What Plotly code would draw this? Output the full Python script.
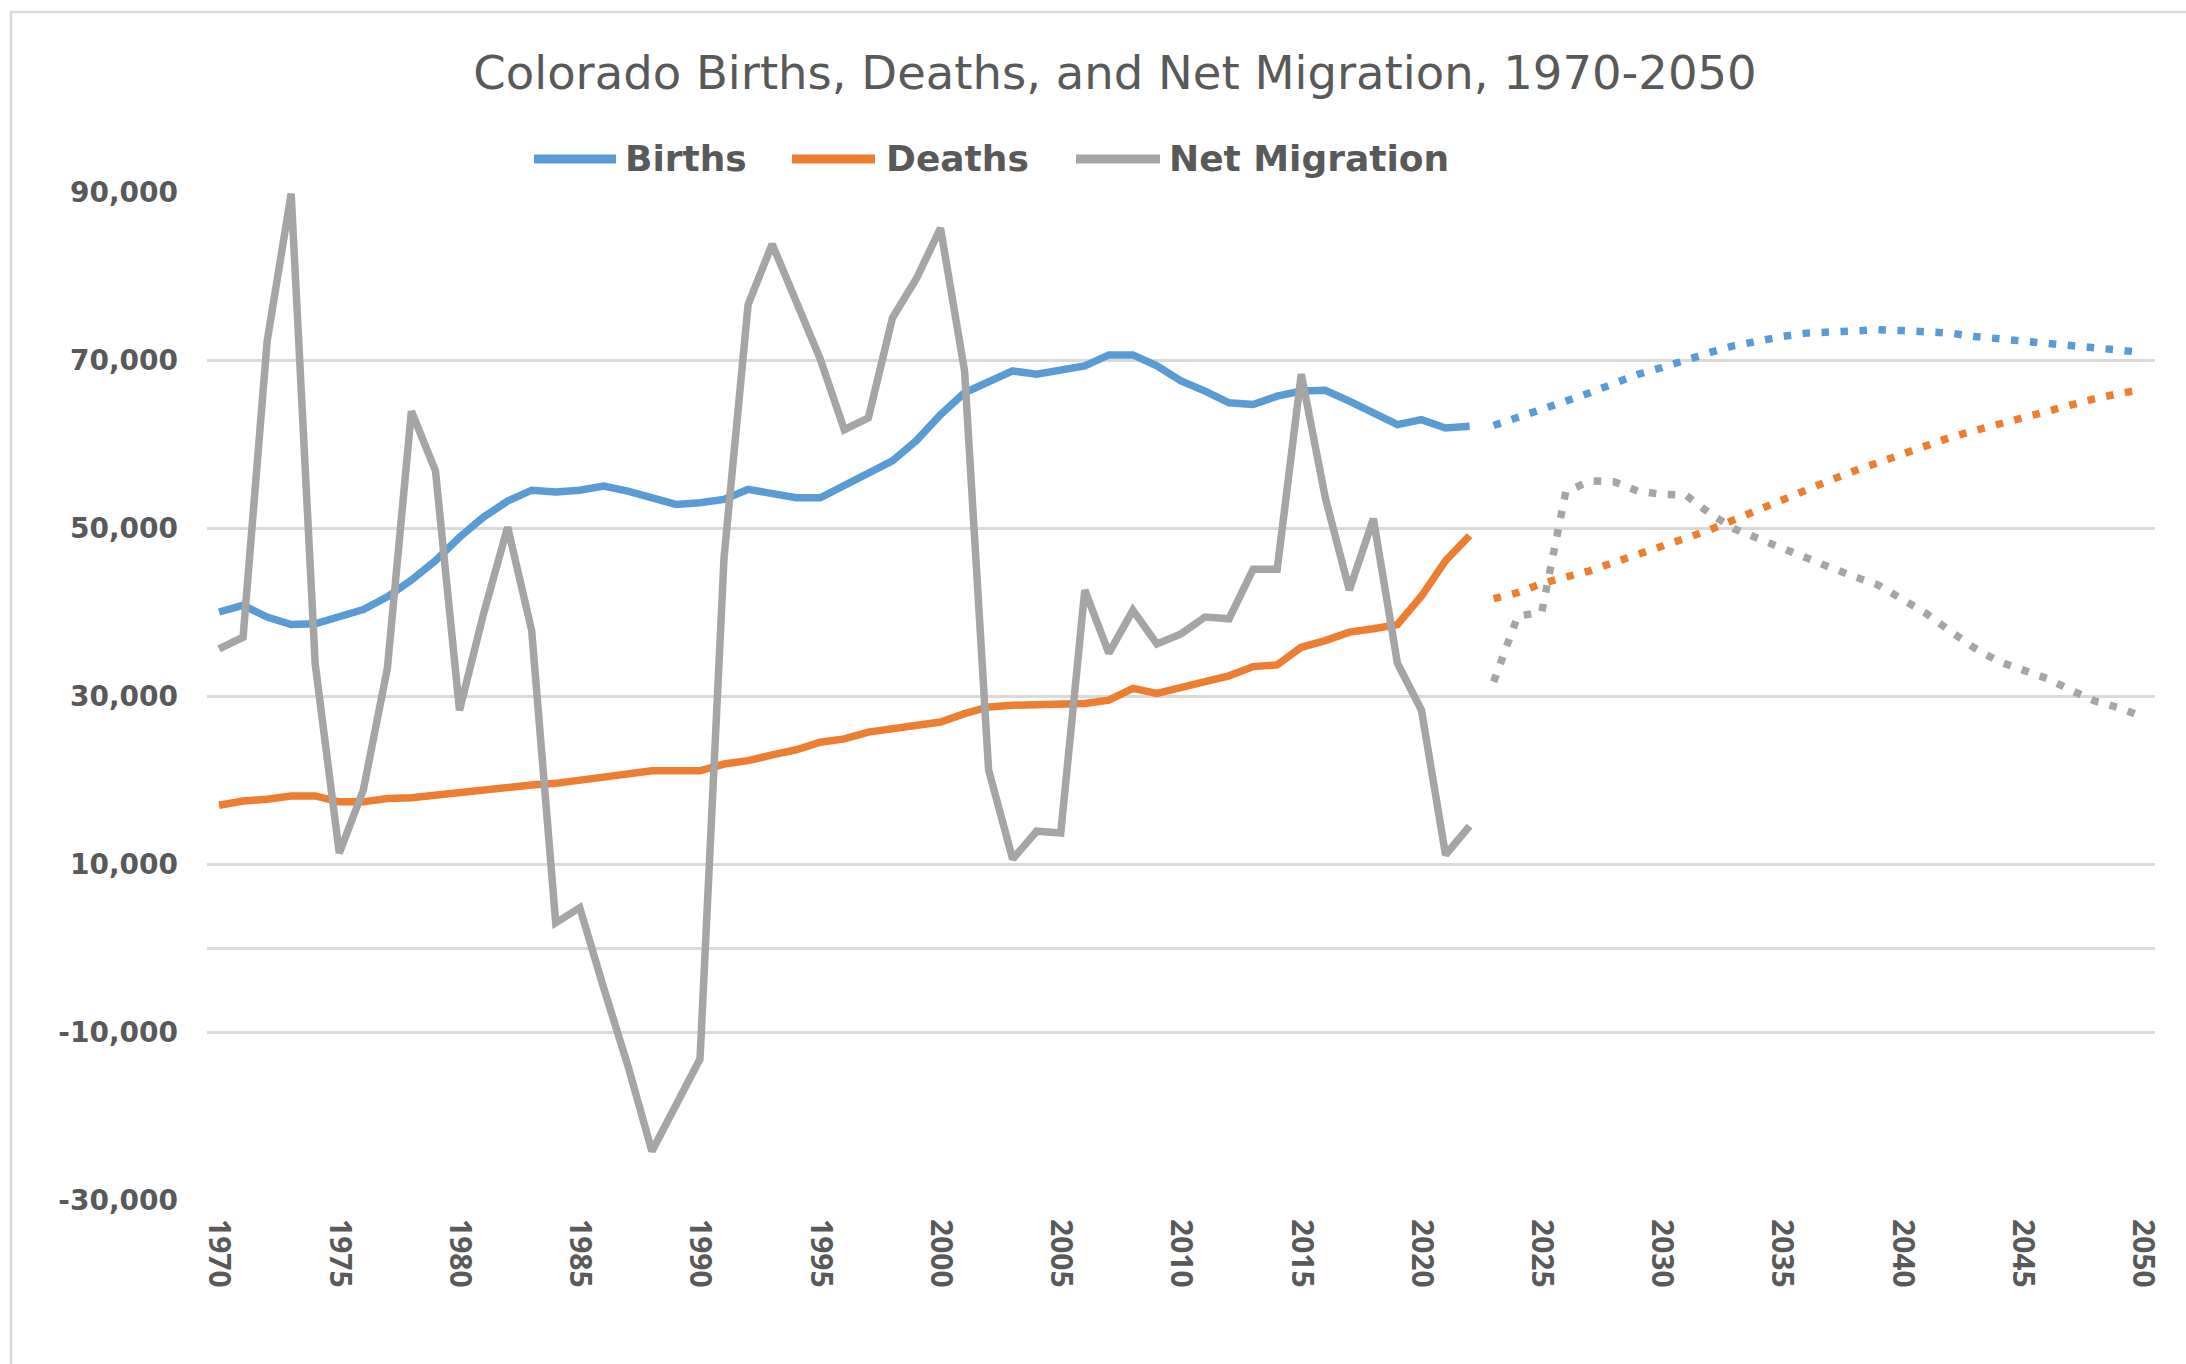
import plotly.graph_objects as go

# ---- Data -------------------------------------------------------------
years_hist = list(range(1970, 2023))
years_proj = list(range(2023, 2051))

births_hist = [
    40000, 40800, 39400, 38500, 38600, 39400, 40300, 41800, 43800, 46100,
    48900, 51300, 53200, 54500, 54300, 54500, 55000, 54400, 53600, 52800,
    53000, 53400, 54600, 54000, 53600, 53600, 55100, 56500, 58000, 60400,
    63500, 66100, 67500, 68700, 68300, 68900, 69300, 70600, 70600, 69300,
    67500, 66300, 64900, 64700, 65700, 66300, 66400, 65100, 63800, 62300,
    62900, 61900, 62100,
]
deaths_hist = [
    17000, 17500, 17700, 18100, 18100, 17400, 17400, 17800, 17900, 18200,
    18500, 18900, 19300, 19400, 19600, 20000, 20400, 20800, 21100, 21100,
    21100, 21900, 22300, 23000, 23600, 24500, 24900, 25700, 26100, 26400,
    26900, 27900, 28700, 28900, 28900, 28900, 29100, 29500, 30900, 30300,
    31100, 31700, 32400, 33500, 33700, 35800, 36600, 37600, 38000, 38500,
    41900, 46100, 49100,
]
migration_hist = [
    35600, 37000, 72200, 89800, 33800, 11300, 18800, 33300, 63900, 56800,
    28300, 39800, 50100, 37800, 3000, 4800, -4800, -14000, -24200, -18700,
    -13200, 46500, 76600, 83800, 77000, 70100, 61700, 63100, 75000, 79700,
    85700, 68700, 21200, 10600, 13900, 13700, 42600, 35100, 40200, 36200,
    37400, 39400, 39200, 45100, 45100, 68300, 53600, 42600, 51100, 33900,
    28300, 11100, 14500,
]

births_proj = [
    62200, 63100, 64100, 65100, 66100, 67200, 68300, 69100, 70100, 70900,
    71700, 72300, 72800, 73200, 73400, 73600, 73600, 73500, 73400, 73200,
    72800, 72500, 72300, 72000, 71700, 71300, 71100, 70900,
]
deaths_proj = [
    41600, 42300, 43400, 44100, 44900, 45900, 46800, 47800, 48800, 49800,
    51000, 52200, 53500, 54700, 55700, 56800, 57800, 58900, 59900, 60800,
    61600, 62400, 63200, 64000, 64700, 65400, 66000, 66500,
]
migration_proj = [
    31700, 39500, 40000, 54300, 55600, 55500, 54400, 54000, 53900, 51700,
    49900, 48700, 47600, 46400, 45300, 44200, 43200, 41500, 39800, 37700,
    35700, 34100, 33100, 32100, 30700, 29400, 28600, 27500,
]

series_names = ["Births", "Deaths", "Net Migration"]
series_colors = ["#5B9BD5", "#ED7D31", "#A5A5A5"]
hist_values = [births_hist, deaths_hist, migration_hist]
proj_values = [births_proj, deaths_proj, migration_proj]

x_tick_years = list(range(1970, 2051, 5))
y_tick_values = [-30000, -10000, 10000, 30000, 50000, 70000, 90000]
y_tick_labels = [f"{v:,}" for v in y_tick_values]

chart_title = "Colorado Births, Deaths, and Net Migration, 1970-2050"

# ---- Layout geometry (pixels) -----------------------------------------
W, H = 2186, 1364
PLOT_L, PLOT_R, PLOT_T, PLOT_B = 207, 2155, 192, 1200
TEXT_COLOR = "#595959"
GRID_COLOR = "#D9D9D9"
LINE_W = 7.5


def px_x(x):
    return (x - PLOT_L) / (PLOT_R - PLOT_L)


def px_y(y):
    return (PLOT_B - y) / (PLOT_B - PLOT_T)


fig = go.Figure()

for name, color, hist, proj in zip(series_names, series_colors, hist_values, proj_values):
    fig.add_trace(go.Scatter(
        x=years_hist, y=hist, name=name, mode="lines",
        line=dict(color=color, width=LINE_W),
        showlegend=False,
    ))
    fig.add_trace(go.Scatter(
        x=years_proj, y=proj, name=name + " (projected)", mode="lines",
        line=dict(color=color, width=LINE_W, dash="7.5px,11.5px"),
        showlegend=False,
    ))

# ---- Legend drawn as line swatches + labels ----------------------------
legend_y = 159
legend_items = [  # swatch start, swatch end, label start (pixels)
    (534, 616, 623),
    (792, 875, 884),
    (1076, 1160, 1167),
]
shapes = []
annotations = []
for (sx0, sx1, tx), name, color in zip(legend_items, series_names, series_colors):
    shapes.append(dict(
        type="line", xref="paper", yref="paper",
        x0=px_x(sx0), x1=px_x(sx1), y0=px_y(legend_y), y1=px_y(legend_y),
        line=dict(color=color, width=9),
    ))
    annotations.append(dict(
        xref="paper", yref="paper", x=px_x(tx), y=px_y(legend_y),
        xanchor="left", yanchor="middle", showarrow=False, text=name,
        font=dict(family="DejaVu Sans", size=36, color=TEXT_COLOR, weight="bold"),
    ))

# Chart-area border
shapes.append(dict(
    type="rect", xref="paper", yref="paper", layer="below",
    x0=px_x(11), x1=px_x(W + 10), y0=px_y(12), y1=px_y(H + 10),
    line=dict(color=GRID_COLOR, width=2.5), fillcolor="rgba(0,0,0,0)",
))

fig.update_layout(
    width=W, height=H, autosize=False,
    margin=dict(l=PLOT_L, r=W - PLOT_R, t=PLOT_T, b=H - PLOT_B, pad=0),
    paper_bgcolor="white", plot_bgcolor="white",
    title=dict(
        text=chart_title, xref="container", yref="container",
        x=1115 / W, y=1 - 73 / H, xanchor="center", yanchor="middle",
        font=dict(family="DejaVu Sans", size=46.5, color=TEXT_COLOR),
    ),
    shapes=shapes,
    annotations=annotations,
    showlegend=False,
)

fig.update_xaxes(
    range=[1969.5, 2050.5],
    tickmode="array", tickvals=x_tick_years,
    ticktext=[str(y) for y in x_tick_years],
    tickangle=90, showgrid=False, zeroline=False, showline=False,
    ticks="", ticklabelstandoff=18,
    tickfont=dict(family="Open Sans", size=30, color=TEXT_COLOR, weight="bold"),
)
fig.update_yaxes(
    range=[-30000, 90000],
    tickmode="array", tickvals=y_tick_values, ticktext=y_tick_labels,
    showgrid=True, gridcolor=GRID_COLOR, gridwidth=2.5,
    zeroline=True, zerolinecolor=GRID_COLOR, zerolinewidth=2.5,
    showline=False, ticks="", ticklabelstandoff=28,
    tickfont=dict(family="DejaVu Sans", size=28, color=TEXT_COLOR, weight="bold"),
)

fig.write_html("out.html")
